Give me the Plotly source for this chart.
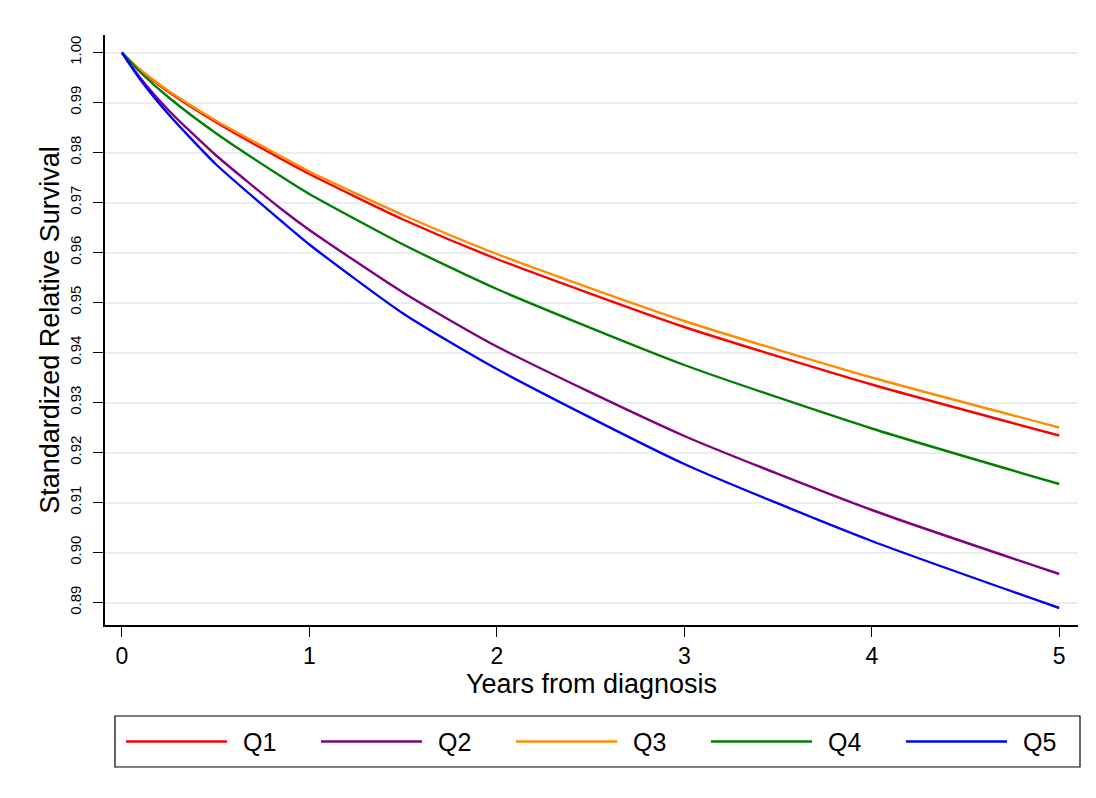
import plotly.graph_objects as go

# years since diagnosis and standardized relative survival by quintile
years = [0, 0.1, 0.25, 0.5, 0.85, 1, 1.5, 2, 3, 4, 5]
q1 = [1.0, 0.9964, 0.9921, 0.9861, 0.9787, 0.9757, 0.9666, 0.9587, 0.9451, 0.9336, 0.9234]
q2 = [1.0, 0.9948, 0.9884, 0.9795, 0.9687, 0.9645, 0.9520, 0.9412, 0.9233, 0.9085, 0.8957]
q3 = [1.0, 0.9965, 0.9923, 0.9864, 0.9792, 0.9762, 0.9675, 0.9597, 0.9463, 0.9350, 0.9250]
q4 = [1.0, 0.9960, 0.9910, 0.9839, 0.9752, 0.9717, 0.9616, 0.9527, 0.9375, 0.9248, 0.9137]
q5 = [1.0, 0.9945, 0.9876, 0.9777, 0.9663, 0.9616, 0.9478, 0.9367, 0.9177, 0.9023, 0.8889]

series = [("Q1", q1, "#ff0000"), ("Q2", q2, "#800080"), ("Q3", q3, "#ff8c00"),
          ("Q4", q4, "#008000"), ("Q5", q5, "#0000ff")]

y_ticks = [0.89, 0.90, 0.91, 0.92, 0.93, 0.94, 0.95, 0.96, 0.97, 0.98, 0.99, 1.00]
x_ticks = [0, 1, 2, 3, 4, 5]

fig = go.Figure()
for name, vals, col in series:
    fig.add_trace(go.Scatter(x=years, y=vals, mode="lines", name=name, showlegend=False,
                             line=dict(color=col, width=2.4, shape="spline", smoothing=0.6)))

# Stata-style legend box below the plot (paper coords, plot area is 973 x 590 px)
pw, ph = 973.0, 590.0
shapes = [dict(type="rect", xref="paper", yref="paper",
               x0=10 / pw, x1=975 / pw, y0=-142 / ph, y1=-91 / ph,
               line=dict(color="black", width=1.2), fillcolor="white")]
annotations = []
for i, (name, vals, col) in enumerate(series):
    x0 = 21 + 195 * i
    shapes.append(dict(type="line", xref="paper", yref="paper",
                       x0=x0 / pw, x1=(x0 + 101) / pw, y0=-116.5 / ph, y1=-116.5 / ph,
                       line=dict(color=col, width=2.4)))
    annotations.append(dict(text=name, xref="paper", yref="paper", showarrow=False,
                            x=(x0 + 115) / pw, y=-116.5 / ph, xanchor="left", yanchor="middle",
                            font=dict(size=25)))

# page body has an 8px margin, so the figure is sized to fit the window
fig.update_layout(
    width=1088, height=790,
    margin=dict(l=97, r=18, t=27, b=173),
    paper_bgcolor="white", plot_bgcolor="white",
    font=dict(family="Liberation Sans, Arial, sans-serif", color="black"),
    showlegend=False, shapes=shapes, annotations=annotations,
)
fig.update_xaxes(
    range=[-0.09, 5.1], tickvals=x_ticks, showgrid=False, zeroline=False, automargin=False,
    showline=True, linecolor="black", linewidth=1.5,
    ticks="outside", ticklen=10, tickcolor="black", tickfont=dict(size=23),
    title=dict(text="Years from diagnosis", font=dict(size=27), standoff=2),
)
fig.update_yaxes(
    range=[0.8855, 1.0035], tickvals=y_ticks, tickformat=".2f", tickangle=-90, automargin=False,
    showgrid=True, gridcolor="#e9eff1", gridwidth=2, zeroline=False,
    showline=True, linecolor="black", linewidth=1.5, ticklabelstandoff=6,
    ticks="outside", ticklen=10, tickcolor="black", tickfont=dict(size=15),
    title=dict(text="Standardized Relative Survival", font=dict(size=27), standoff=0),
)

fig.write_html("out.html")
